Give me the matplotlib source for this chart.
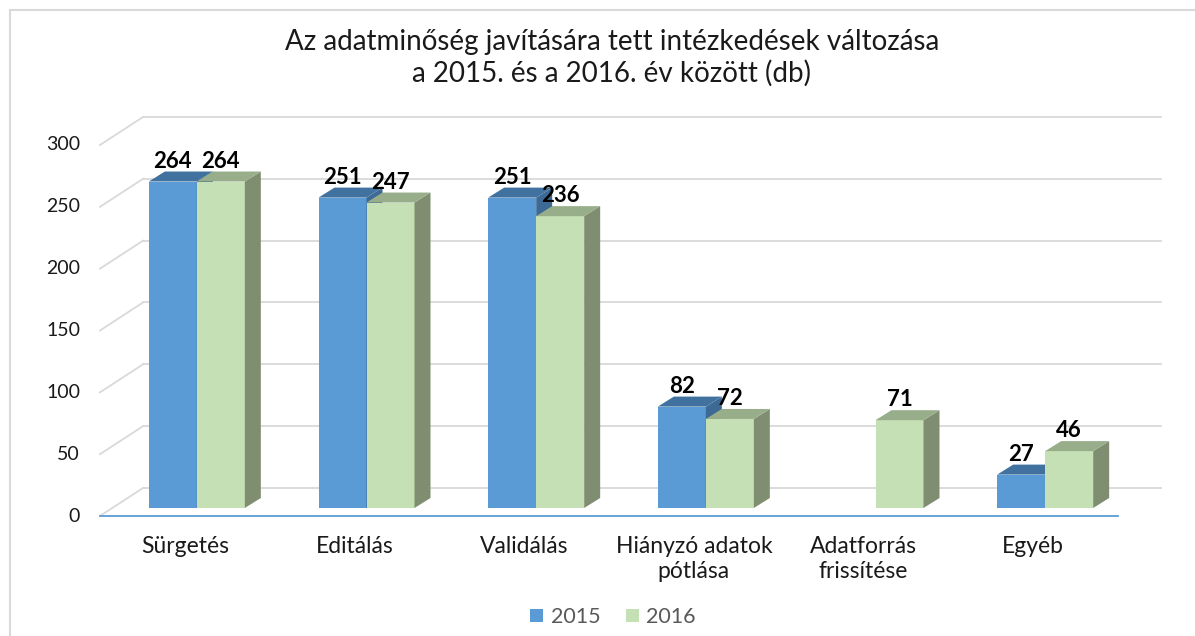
import matplotlib
matplotlib.use('Agg')
import matplotlib.pyplot as plt
from matplotlib.patches import Polygon, Patch
from matplotlib.lines import Line2D

plt.rcParams['font.family'] = ['Lato', 'DejaVu Sans']

# adatok
categories = ['Sürgetés', 'Editálás', 'Validálás', 'Hiányzó adatok\npótlása',
              'Adatforrás\nfrissítése', 'Egyéb']
values_2015 = [264, 251, 251, 82, 0, 27]
values_2016 = [264, 247, 236, 72, 71, 46]
series_names = ['2015', '2016']
yticks = [0, 50, 100, 150, 200, 250, 300]

title = 'Az adatminőség javítására tett intézkedések változása\na 2015. és a 2016. év között (db)'

# színek: elülső lap, felső lap, oldallap
colors = [('#5b9bd5', '#41729f', '#3d6a94'),
          ('#c5e0b4', '#98ad8a', '#7f8e70')]

W, H = 1195, 636
fig = plt.figure(figsize=(W / 100, H / 100), dpi=100)
ax = fig.add_axes([100 / W, (H - 516) / H, 1018 / W, (516 - 145) / H])
ax.set_xlim(0, len(categories))
ax.set_ylim(0, 300)
ax.axis('off')

# pixel -> adat egység
kx = 1018 / len(categories)
ky = 371 / 300


def px(dx, dy):
    return dx / kx, dy / ky


# hátfal rácsvonalai és bal oldali átlók
wx, wy = px(43, 28)
for v in yticks:
    ax.plot([wx, len(categories) + wx], [v + wy, v + wy], color='#d9d9d9',
            lw=1.3, clip_on=False, zorder=1)
    ax.plot([0, wx], [v, v + wy], color='#d9d9d9', lw=1.3, clip_on=False, zorder=1)
    ax.text(-20 / kx, v, str(v), ha='right', va='center', fontsize=14,
            color='#1a1a1a')

# vízszintes tengely
ax.plot([0, len(categories)], [0, 0], color='#5b9bd5', lw=1.3, clip_on=False, zorder=2)

# oszlopok (3D hatás)
bx, by = px(12, 8)
dx, dy = px(16, 10)
w = 48 / kx
for i, cat in enumerate(categories):
    for s, vals in enumerate([values_2015, values_2016]):
        v = vals[i]
        if not v:
            continue
        front, top, side = colors[s]
        xl = i + 0.5 + bx - w + s * w
        ax.bar(xl, v, width=w, bottom=by, align='edge', color=front,
               edgecolor='none', zorder=3, clip_on=False)
        ax.add_patch(Polygon([(xl + w, by), (xl + w + dx, by + dy),
                              (xl + w + dx, by + v + dy), (xl + w, by + v)],
                             closed=True, color=side, lw=0, zorder=3, clip_on=False))
        ax.add_patch(Polygon([(xl, by + v), (xl + w, by + v),
                              (xl + w + dx, by + v + dy), (xl + dx, by + v + dy)],
                             closed=True, color=top, lw=0, zorder=3, clip_on=False))
        ax.text(xl + w / 2, by + v + dy, str(v), ha='center', va='bottom',
                fontsize=16, fontweight='bold', color='black', zorder=5)
    ax.text(i + 0.5, -20 / ky, cat, ha='center', va='top', fontsize=16.5,
            color='#1a1a1a', linespacing=1.25)

# cím
fig.text(0.512, (H - 58) / H, title, ha='center', va='center', fontsize=20,
         color='#1a1a1a', linespacing=1.2)

# jelmagyarázat
handles = [Patch(facecolor=colors[0][0], edgecolor='none'),
           Patch(facecolor=colors[1][0], edgecolor='none')]
leg = fig.legend(handles, series_names, loc='center', ncol=2,
                 bbox_to_anchor=(0.513, (H - 617) / H), frameon=False,
                 fontsize=15.5, handlelength=0.6, handleheight=0.6,
                 handletextpad=0.35, columnspacing=1.2)
for t in leg.get_texts():
    t.set_color('#595959')

# keret
fig.add_artist(Line2D([10 / W, 10 / W], [0, (H - 10) / H], color='#d9d9d9', lw=1.5))
fig.add_artist(Line2D([10 / W, 1], [(H - 10) / H, (H - 10) / H], color='#d9d9d9', lw=1.5))

fig.savefig('out.png', dpi=100)
